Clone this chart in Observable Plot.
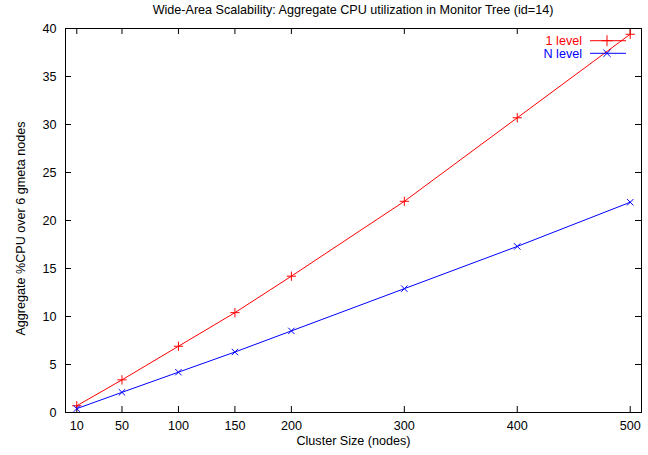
<!DOCTYPE html>
<html><head><meta charset="utf-8">
<script src="https://cdn.jsdelivr.net/npm/d3@7"></script>
<script src="https://cdn.jsdelivr.net/npm/@observablehq/plot@0.6"></script>
<style>
body{margin:0;background:#fff;font-family:"Liberation Sans",Arial,Helvetica,sans-serif;}
#wrap{position:relative;width:648px;height:455px;}
#title{position:absolute;left:65px;width:576px;top:3px;text-align:center;font-size:12.6px;line-height:15px;z-index:2;}
</style></head><body>
<div id="wrap"><div id="title">Wide-Area Scalability: Aggregate CPU utilization in Monitor Tree (id=14)</div><div id="chart"></div></div>
<script>
const clusterSizes = [10, 50, 100, 150, 200, 300, 400, 500];
const oneLevel = [0.7, 3.4, 6.9, 10.4, 14.2, 22.0, 30.7, 39.4];
const nLevel = [0.4, 2.1, 4.2, 6.3, 8.5, 12.9, 17.3, 21.9];
const seriesNames = ["1 level", "N level"];
const seriesColors = ["#ff0000", "#0000ff"];
const seriesSymbols = ["plus", "times"];
const xTicks = [10, 50, 100, 150, 200, 300, 400, 500];
const yTicks = [0, 5, 10, 15, 20, 25, 30, 35, 40];
const yLabel = "Aggregate %CPU over 6 gmeta nodes";

const rows = clusterSizes.flatMap((x, i) => [
  {x, y: oneLevel[i], s: seriesNames[0]},
  {x, y: nLevel[i], s: seriesNames[1]}
]);

const W = 648, H = 455, mL = 65, mR = 7, mT = 28, mB = 43;
const fw = W - mL - mR, fh = H - mT - mB, tl = 6;
const symR = [3.6, 3.4];

function legend(index, scales, values, dims) {
  const g = d3.create("svg:g").attr("font-size", 12.6).attr("font-family", "Liberation Sans, Arial, sans-serif");
  const right = dims.width - dims.marginRight;
  seriesNames.forEach((name, i) => {
    const y = dims.marginTop + 12.7 + i * 12.6;
    const c = seriesColors[i];
    g.append("text").attr("x", right - 59).attr("y", y).attr("dy", "0.35em")
      .attr("text-anchor", "end").attr("fill", c).text(name);
    g.append("line").attr("x1", right - 51).attr("x2", right - 15).attr("y1", y).attr("y2", y)
      .attr("stroke", c).attr("stroke-width", 1);
    const sym = i === 0 ? d3.symbolPlus : d3.symbolTimes;
    const r = symR[i];
    g.append("path").attr("transform", `translate(${right - 34},${y})`)
      .attr("d", d3.symbol(sym, r * r * Math.PI)()).attr("fill", "none").attr("stroke", c);
  });
  return g.node();
}

const chart = Plot.plot({
  width: W, height: H,
  marginLeft: mL, marginRight: mR, marginTop: mT, marginBottom: mB,
  style: {fontFamily: "Liberation Sans, Arial, sans-serif", fontSize: "12.6px", color: "black", background: "white"},
  x: {domain: [0, 510]},
  y: {domain: [0, 40]},
  color: {domain: seriesNames, range: seriesColors},
  symbol: {domain: seriesNames, range: seriesSymbols},
  marks: [
    Plot.ruleX(xTicks, {x: d => d, insetTop: fh - tl, stroke: "black"}),
    Plot.ruleX(xTicks, {x: d => d, insetBottom: fh - tl, stroke: "black"}),
    Plot.ruleY(yTicks, {y: d => d, insetRight: fw - tl, stroke: "black"}),
    Plot.ruleY(yTicks, {y: d => d, insetLeft: fw - tl, stroke: "black"}),
    Plot.axisX({ticks: xTicks, tickSize: 0, tickPadding: 9, tickFormat: d => d, label: "Cluster Size (nodes)", labelAnchor: "center", labelOffset: 32, labelArrow: "none"}),
    Plot.axisY({ticks: yTicks, tickSize: 0, tickPadding: 9, tickFormat: d => d, label: null}),
    Plot.text([yLabel], {text: d => d, frameAnchor: "left", textAnchor: "middle", rotate: -90, dx: -45, dy: 8, fill: "black", fontSize: 12.6}),
    Plot.line(rows, {x: "x", y: "y", z: "s", stroke: "s", strokeWidth: 1}),
    Plot.dot(rows, {x: "x", y: "y", stroke: "s", symbol: "s", fill: "none", r: d => d.s === seriesNames[0] ? symR[0] : symR[1], strokeWidth: 1}),
    Plot.frame({stroke: "black", strokeWidth: 1}),
    legend
  ]
});
document.getElementById("chart").appendChild(chart);
</script>
</body></html>
